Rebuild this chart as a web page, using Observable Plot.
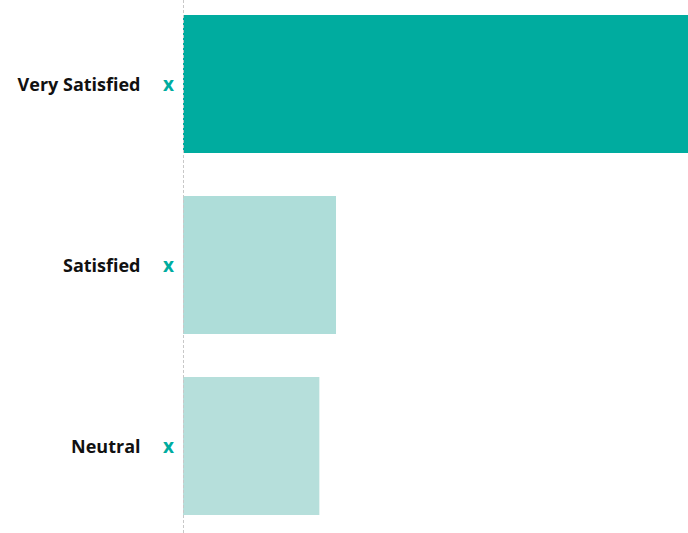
<!DOCTYPE html>
<html>
<head>
<meta charset="utf-8">
<script src="https://cdn.jsdelivr.net/npm/d3@7"></script>
<script src="https://cdn.jsdelivr.net/npm/@observablehq/plot@0.6"></script>
<style>
  html, body { margin: 0; padding: 0; background: #fff; }
  #chart svg { display: block; }
</style>
</head>
<body>
<div id="chart"></div>
<script>
const categories = ["Very Satisfied", "Satisfied", "Neutral"];
const values = [100, 30.3, 27.0];
const colors = ["#00AC9F", "#AEDDD9", "#B6DFDB"];
const markers = ["x", "x", "x"];

const data = categories.map((c, i) => ({category: c, value: values[i], color: colors[i], marker: markers[i]}));

const chart = Plot.plot({
  width: 688,
  height: 533,
  marginLeft: 183,
  marginRight: 0,
  marginTop: 14,
  marginBottom: 17,
  style: {fontFamily: "'Open Sans'", background: "#fff"},
  x: {domain: [0, 100], axis: null},
  y: {domain: categories, padding: 0.24, paddingOuter: 0, label: null},
  marks: [
    Plot.barX(data, {x: "value", y: "category", fill: "color"}),
    Plot.ruleX([0], {stroke: "#c8c8c8", strokeWidth: 1, strokeDasharray: "3,2", insetTop: -14, insetBottom: -17}),
    Plot.axisY({tickSize: 0, tickPadding: 43, fontSize: 18, fontWeight: "bold", fill: "#111", label: null, dy: 1}),
    Plot.text(data, {x: 0, y: "category", text: "marker", dx: -15, dy: 0, textAnchor: "middle", fill: "#00AC9F", fontSize: 19, fontWeight: "bold"})
  ]
});
document.getElementById("chart").appendChild(chart);
</script>
</body>
</html>
